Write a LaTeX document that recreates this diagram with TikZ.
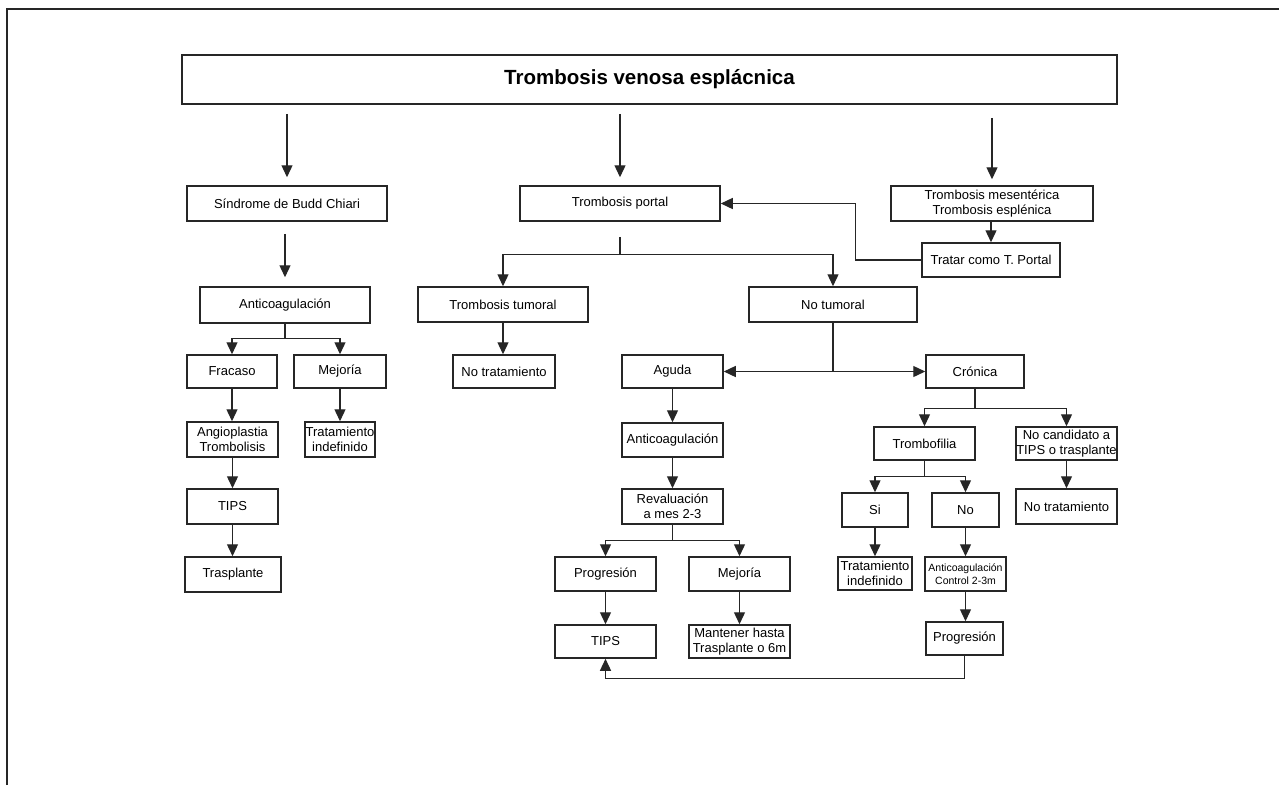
\documentclass[tikz,border=0pt]{standalone}
\usepackage{fontspec}
\setmainfont{Liberation Sans}
\usetikzlibrary{arrows.meta}
\begin{document}
\begin{tikzpicture}[x=1pt,y=-1pt,
  line join=miter,
  box/.style={draw=black!85, line width=1.5pt, rectangle, inner sep=0pt, align=center, font=\fontsize{13}{15}\selectfont, text=black},
  arr/.style={draw=black!85, line width=1.3pt, -{Triangle[length=12pt,width=11pt]}},
  ln/.style={draw=black!85, line width=1.3pt}]
\useasboundingbox (0,0) rectangle (1279,785);
\draw[line width=1.5pt, black!85] (7,785) -- (7,9) -- (1279,9);

% title
\node[box, minimum width=935pt, minimum height=49pt, font=\fontsize{20.5}{24}\selectfont\bfseries] (title) at (649.5,79.5) {Trombosis venosa esplácnica};

% row 1
\node[box, minimum width=200pt, minimum height=35pt] (budd) at (287,203.5) {Síndrome de Budd Chiari};
\node[box, minimum width=200pt, minimum height=35pt] (tp) at (620,203.5) {Trombosis portal};
\node[box, minimum width=202pt, minimum height=35pt] (mes) at (992,203.5) {Trombosis mesentérica\\Trombosis esplénica};
\node[box, minimum width=138pt, minimum height=34pt] (tratar) at (991,260) {Tratar como T. Portal};

% left column
\node[box, minimum width=170pt, minimum height=36pt] (acL) at (285,305) {Anticoagulación};
\node[box, minimum width=90pt, minimum height=33pt] (fracaso) at (232,371.5) {Fracaso};
\node[box, minimum width=92pt, minimum height=33pt] (mejL) at (340,371.5) {Mejoría};
\node[box, minimum width=91pt, minimum height=35pt] (angio) at (232.5,439.5) {Angioplastia\\Trombolisis};
\node[box, minimum width=70pt, minimum height=35pt] (tiL) at (340,439.5) {Tratamiento\\indefinido};
\node[box, minimum width=91pt, minimum height=35pt] (tipsL) at (232.5,506.5) {TIPS};
\node[box, minimum width=96pt, minimum height=35pt] (traspl) at (233,574.5) {Trasplante};

% middle
\node[box, minimum width=170pt, minimum height=35pt] (tumoral) at (503,304.5) {Trombosis tumoral};
\node[box, minimum width=102pt, minimum height=33pt] (notratL) at (504,371.5) {No tratamiento};
\node[box, minimum width=168pt, minimum height=35pt] (notumoral) at (833,304.5) {No tumoral};
\node[box, minimum width=101pt, minimum height=33pt] (aguda) at (672.5,371.5) {Aguda};
\node[box, minimum width=101pt, minimum height=34pt] (acM) at (672.5,440) {Anticoagulación};
\node[box, minimum width=101pt, minimum height=35pt] (reval) at (672.5,506.5) {Revaluación\\a mes 2-3};
\node[box, minimum width=101pt, minimum height=34pt] (progM) at (605.5,574) {Progresión};
\node[box, minimum width=101pt, minimum height=34pt] (mejM) at (739.5,574) {Mejoría};
\node[box, minimum width=101pt, minimum height=33pt] (tipsM) at (605.5,641.5) {TIPS};
\node[box, minimum width=101pt, minimum height=33pt] (mant) at (739.5,641.5) {Mantener hasta\\Trasplante o 6m};

% right
\node[box, minimum width=98pt, minimum height=33pt] (cronica) at (975,371.5) {Crónica};
\node[box, minimum width=101pt, minimum height=33pt] (tromb) at (924.5,443.5) {Trombofilia};
\node[box, minimum width=101pt, minimum height=33pt] (nocand) at (1066.5,443.5) {No candidato a\\TIPS o trasplante};
\node[box, minimum width=101pt, minimum height=35pt] (notratR) at (1066.5,506.5) {No tratamiento};
\node[box, minimum width=66pt, minimum height=34pt] (si) at (875,510) {Si};
\node[box, minimum width=67pt, minimum height=34pt] (no) at (965.5,510) {No};
\node[box, minimum width=74pt, minimum height=33pt] (tiR) at (875,573.5) {Tratamiento\\indefinido};
\node[box, minimum width=81pt, minimum height=34pt, font=\fontsize{10.5}{12.5}\selectfont] (acR) at (965.5,574) {Anticoagulación\\Control 2-3m};
\node[box, minimum width=77pt, minimum height=33pt] (progR) at (964.5,638.5) {Progresión};

% connectors from title
\draw[arr, shorten <=9pt, shorten >=8pt] (title.south -| budd) -- (budd.north);
\draw[arr, shorten <=9pt, shorten >=8pt] (title.south -| tp) -- (tp.north);
\draw[arr, shorten <=13pt, shorten >=6pt] (title.south -| mes) -- (mes.north);

% mesenterica
\draw[arr] (mes.south -| tratar) -- (tratar.north);
\draw[arr] (tratar.west) -- ++(-66,0) |- (tp.east);

% budd chiari branch
\draw[arr, shorten <=12pt, shorten >=9pt] (budd.south -| acL) -- (acL.north);
\draw[ln] (acL.south) -- ++(0,15) coordinate (f1);
\draw[arr] (f1) -| (fracaso.north);
\draw[arr] (f1) -| (mejL.north);
\draw[arr] (fracaso.south) -- (fracaso.south |- angio.north);
\draw[arr] (mejL.south) -- (tiL.north);
\draw[arr] (angio.south) -- (tipsL.north);
\draw[arr] (tipsL.south) -- (tipsL.south |- traspl.north);

% portal branch
\draw[ln, shorten <=15pt] (tp.south) -- ++(0,33) coordinate (f2);
\draw[arr] (f2) -| (tumoral.north);
\draw[arr] (f2) -| (notumoral.north);
\draw[arr] (tumoral.south) -- (tumoral.south |- notratL.north);
\draw[ln] (notumoral.south) -- (notumoral.south |- aguda.east) coordinate (f3);
\draw[arr] (f3) -- (aguda.east);
\draw[arr] (f3) -- (cronica.west);

% aguda
\draw[arr] (aguda.south) -- (acM.north);
\draw[arr] (acM.south) -- (reval.north);
\draw[ln] (reval.south) -- ++(0,16) coordinate (f4);
\draw[arr] (f4) -| (progM.north);
\draw[arr] (f4) -| (mejM.north);
\draw[arr] (progM.south) -- (tipsM.north);
\draw[arr] (mejM.south) -- (mant.north);

% cronica
\draw[ln] (cronica.south) -- ++(0,20) coordinate (f5);
\draw[arr] (f5) -| (tromb.north);
\draw[arr] (f5) -| (nocand.north);
\draw[arr] (nocand.south) -- (notratR.north);
\draw[ln] (tromb.south) -- ++(0,16) coordinate (f6);
\draw[arr] (f6) -| (si.north);
\draw[arr] (f6) -| (no.north);
\draw[arr] (si.south) -- (tiR.north);
\draw[arr] (no.south) -- (acR.north);
\draw[arr] (acR.south) -- (acR.south |- progR.north);
\draw[arr] (progR.south) -- ++(0,23) -| (tipsM.south);
\end{tikzpicture}
\end{document}
